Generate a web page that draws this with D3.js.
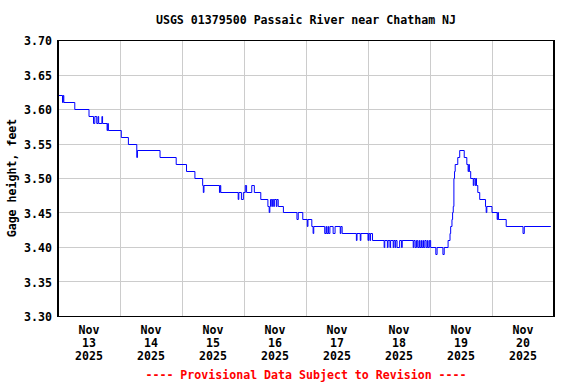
<!DOCTYPE html>
<html>
<head>
<meta charset="utf-8">
<script src="https://cdn.jsdelivr.net/npm/d3@7"></script>
<style>
  body { margin: 0; background: #fff; }
  text { font-family: "DejaVu Sans Mono", monospace; font-weight: bold; font-size: 11.6px; }
</style>
</head>
<body>
<div id="chart"></div>
<script>
/*
*    USGS gage height chart
*/

const title = "USGS 01379500 Passaic River near Chatham NJ";
const yLabel = "Gage height, feet";
const footer = "---- Provisional Data Subject to Revision ----";

// readings where the value changes (15-minute data, 2025)
const times = [
  "11-13 00:00", "11-13 01:45", "11-13 02:00", "11-13 02:15", "11-13 06:30", "11-13 12:00",
  "11-13 13:45", "11-13 14:15", "11-13 15:00", "11-13 15:30", "11-13 15:45", "11-13 17:00",
  "11-13 17:15", "11-13 19:00", "11-13 19:15", "11-13 19:30", "11-14 00:30", "11-14 03:15",
  "11-14 06:30", "11-14 06:45", "11-14 15:30", "11-14 21:45", "11-15 01:45", "11-15 05:00",
  "11-15 08:00", "11-15 08:15", "11-15 08:30", "11-15 14:30", "11-15 14:45", "11-15 15:00",
  "11-15 21:45", "11-15 22:00", "11-15 23:00", "11-15 23:45", "11-16 00:30", "11-16 01:00",
  "11-16 03:00", "11-16 04:00", "11-16 06:30", "11-16 09:15", "11-16 09:45", "11-16 10:00",
  "11-16 10:15", "11-16 10:45", "11-16 11:00", "11-16 11:30", "11-16 11:45", "11-16 12:30",
  "11-16 12:45", "11-16 13:15", "11-16 15:15", "11-16 20:30", "11-16 21:00", "11-16 22:45",
  "11-17 00:30", "11-17 00:45", "11-17 02:15", "11-17 02:45", "11-17 03:00", "11-17 07:15",
  "11-17 07:45", "11-17 08:00", "11-17 08:30", "11-17 08:45", "11-17 09:15", "11-17 10:30",
  "11-17 11:15", "11-17 13:15", "11-17 13:30", "11-17 14:00", "11-17 19:30", "11-17 19:45",
  "11-17 21:00", "11-17 21:15", "11-18 00:00", "11-18 00:15", "11-18 00:45", "11-18 01:00",
  "11-18 01:45", "11-18 06:15", "11-18 06:30", "11-18 07:30", "11-18 07:45", "11-18 08:30",
  "11-18 08:45", "11-18 09:45", "11-18 10:00", "11-18 10:30", "11-18 10:45", "11-18 11:15",
  "11-18 12:15", "11-18 13:00", "11-18 13:15", "11-18 17:30", "11-18 17:45", "11-18 18:15",
  "11-18 18:45", "11-18 19:15", "11-18 19:45", "11-18 20:00", "11-18 20:30", "11-18 20:45",
  "11-18 21:15", "11-18 21:30", "11-18 22:00", "11-18 22:30", "11-18 23:00", "11-18 23:15",
  "11-18 23:45", "11-19 00:15", "11-19 02:15", "11-19 02:45", "11-19 05:00", "11-19 05:30",
  "11-19 07:00", "11-19 07:45", "11-19 08:00", "11-19 08:30", "11-19 08:45", "11-19 09:00",
  "11-19 09:15", "11-19 09:30", "11-19 09:45", "11-19 10:45", "11-19 11:30", "11-19 13:15",
  "11-19 14:15", "11-19 14:45", "11-19 15:00", "11-19 15:15", "11-19 15:45", "11-19 16:45",
  "11-19 17:00", "11-19 17:30", "11-19 17:45", "11-19 18:00", "11-19 18:30", "11-19 19:15",
  "11-19 21:30", "11-19 21:45", "11-19 22:00", "11-20 00:00", "11-20 02:00", "11-20 02:15",
  "11-20 02:30", "11-20 05:30", "11-20 12:00", "11-20 12:30", "11-20 22:45"
];

const gage = [
  3.62, 3.61, 3.62, 3.61, 3.60, 3.59,
  3.58, 3.59, 3.58, 3.59, 3.58, 3.59,
  3.58, 3.57, 3.58, 3.57, 3.56, 3.55,
  3.53, 3.54, 3.53, 3.52, 3.51, 3.50,
  3.49, 3.48, 3.49, 3.48, 3.49, 3.48,
  3.47, 3.48, 3.47, 3.48, 3.49, 3.48,
  3.49, 3.48, 3.47, 3.46, 3.45, 3.46,
  3.47, 3.46, 3.47, 3.46, 3.47, 3.46,
  3.47, 3.46, 3.45, 3.44, 3.45, 3.44,
  3.43, 3.44, 3.43, 3.42, 3.43, 3.42,
  3.43, 3.42, 3.43, 3.42, 3.43, 3.42,
  3.43, 3.42, 3.43, 3.42, 3.41, 3.42,
  3.41, 3.42, 3.41, 3.42, 3.41, 3.42,
  3.41, 3.40, 3.41, 3.40, 3.41, 3.40,
  3.41, 3.40, 3.41, 3.40, 3.41, 3.40,
  3.41, 3.40, 3.41, 3.40, 3.41, 3.40,
  3.41, 3.40, 3.41, 3.40, 3.41, 3.40,
  3.41, 3.40, 3.41, 3.40, 3.41, 3.40,
  3.41, 3.40, 3.39, 3.40, 3.39, 3.40,
  3.41, 3.42, 3.43, 3.44, 3.45, 3.46,
  3.50, 3.51, 3.52, 3.53, 3.54, 3.53,
  3.52, 3.51, 3.52, 3.51, 3.50, 3.49,
  3.50, 3.49, 3.50, 3.49, 3.48, 3.47,
  3.46, 3.45, 3.46, 3.45, 3.44, 3.45,
  3.44, 3.43, 3.42, 3.43, 3.43
];

const yTicks = [3.30, 3.35, 3.40, 3.45, 3.50, 3.55, 3.60, 3.65, 3.70];
const dayLabels = ["13", "14", "15", "16", "17", "18", "19", "20"];
const monthLabel = "Nov";
const yearLabel = "2025";

const width = 576;
const height = 384;
const margin = { left: 58, right: 22, top: 40, bottom: 68 };
const innerWidth = width - margin.left - margin.right;
const innerHeight = height - margin.top - margin.bottom;

const parse = d3.timeParse("%Y-%m-%d %H:%M");
const data = times.map((t, i) => ({ date: parse("2025-" + t), value: gage[i] }));

const svg = d3.select("#chart")
  .append("svg")
  .attr("width", width)
  .attr("height", height)
  .style("display", "block");

const g = svg.append("g")
  .attr("transform", `translate(${margin.left}, ${margin.top})`);

const start = parse("2025-11-13 00:00");
const end = parse("2025-11-21 00:00");

const x = d3.scaleTime()
  .domain([start, end])
  .range([0, innerWidth]);

const y = d3.scaleLinear()
  .domain([3.30, 3.70])
  .range([innerHeight, 0]);

// grid
const days = d3.timeDay.range(start, end);

g.append("g")
  .selectAll("line")
  .data(days.slice(1))
  .enter()
  .append("line")
  .attr("x1", d => Math.round(x(d)) + 0.5)
  .attr("x2", d => Math.round(x(d)) + 0.5)
  .attr("y1", 0)
  .attr("y2", innerHeight)
  .attr("stroke", "#cccccc")
  .attr("stroke-width", 1);

g.append("g")
  .selectAll("line")
  .data(yTicks)
  .enter()
  .append("line")
  .attr("x1", 0)
  .attr("x2", innerWidth)
  .attr("y1", d => Math.round(y(d)) + 0.5)
  .attr("y2", d => Math.round(y(d)) + 0.5)
  .attr("stroke", "#cccccc")
  .attr("stroke-width", 1);

// data line
const line = d3.line()
  .x(d => x(d.date))
  .y(d => Math.round(y(d.value)) + 0.5)
  .curve(d3.curveStepAfter);

g.append("path")
  .datum(data)
  .attr("fill", "none")
  .attr("stroke", "#0000ff")
  .attr("stroke-width", 1)
  .attr("d", line);

// frame
g.append("line").attr("x1", 0).attr("x2", innerWidth).attr("y1", 0.5).attr("y2", 0.5)
  .attr("stroke", "#000");
g.append("line").attr("x1", 0).attr("x2", innerWidth).attr("y1", innerHeight + 0.5).attr("y2", innerHeight + 0.5)
  .attr("stroke", "#000");
g.append("line").attr("x1", 0).attr("x2", 0).attr("y1", 0).attr("y2", innerHeight + 1)
  .attr("stroke", "#000").attr("stroke-width", 2);
g.append("line").attr("x1", innerWidth).attr("x2", innerWidth).attr("y1", 0).attr("y2", innerHeight + 1)
  .attr("stroke", "#000").attr("stroke-width", 2);

// centre a text by measuring it (start anchor)
function centre(sel, cx) {
  sel.each(function (d, i) {
    const w = this.getComputedTextLength();
    const c = typeof cx === "function" ? cx(d, i) : cx;
    d3.select(this).attr("x", c - w / 2);
  });
}

// y tick labels
g.append("g")
  .selectAll("text")
  .data(yTicks)
  .enter()
  .append("text")
  .attr("x", -6)
  .attr("y", d => y(d) + 5)
  .attr("text-anchor", "end")
  .text(d => d.toFixed(2));

// x tick labels, three lines centred on each day
const mid = d => x(d3.timeHour.offset(d, 12));
const rows = [
  { dy: 17.5, text: () => monthLabel },
  { dy: 31, text: (d, i) => dayLabels[i] },
  { dy: 44, text: () => yearLabel }
];

rows.forEach(r => {
  g.append("g")
    .selectAll("text")
    .data(days)
    .enter()
    .append("text")
    .attr("y", innerHeight + r.dy)
    .text(r.text)
    .call(centre, mid);
});

// titles
svg.append("text")
  .attr("y", 24)
  .text(title)
  .call(centre, margin.left + innerWidth / 2);

svg.append("text")
  .attr("x", -(margin.top + innerHeight / 2))
  .attr("y", 16)
  .attr("transform", "rotate(-90)")
  .text(yLabel)
  .call(centre, -(margin.top + innerHeight / 2));

svg.append("text")
  .attr("y", 379)
  .attr("fill", "#ff0000")
  .text(footer)
  .call(centre, margin.left + innerWidth / 2);
</script>
</body>
</html>
